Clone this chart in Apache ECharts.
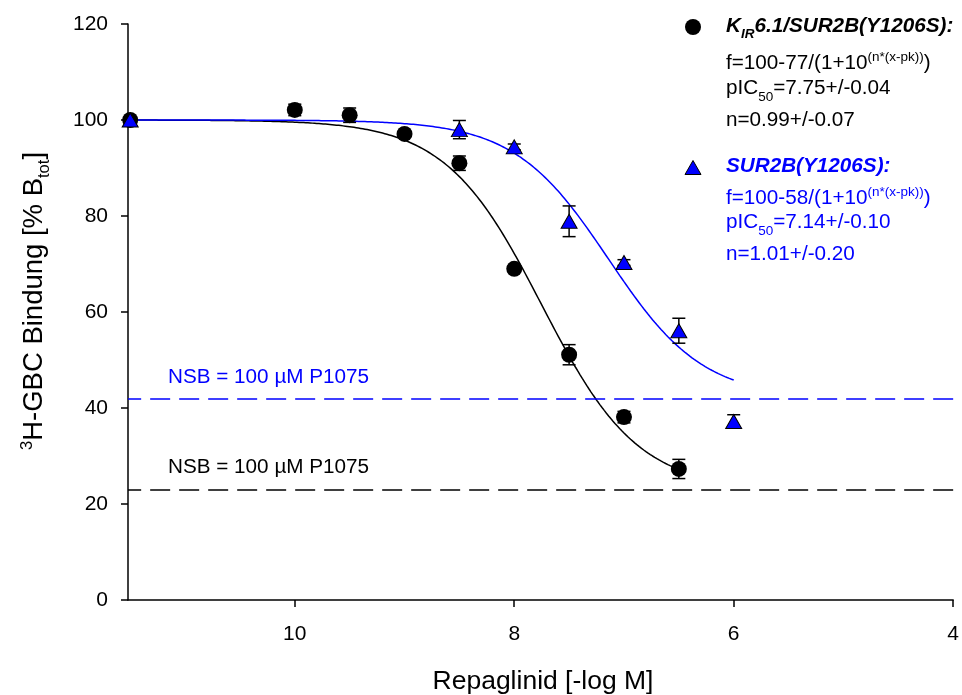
<!DOCTYPE html>
<html>
<head>
<meta charset="utf-8">
<script src="https://cdn.jsdelivr.net/npm/echarts@6/dist/echarts.min.js"></script>
<style>
  html, body { margin: 0; padding: 0; background: #fff; }
  #chart { width: 962px; height: 695px; }
</style>
</head>
<body>
<div id="chart"></div>
<script>
// Repaglinid displacement of [3H]-GBC binding, two receptor constructs

// x ticks (-log M) and y ticks (% B_tot)
const xTickValues = [4, 6, 8, 10];
const yTickValues = [0, 20, 40, 60, 80, 100, 120];

// Kir6.1/SUR2B(Y1206S): concentration (-log M), mean binding, SEM
const concKir = [11.5, 10, 9.5, 9, 8.5, 8, 7.5, 7, 6.5];
const bindKir = [100, 102.1, 101.0, 97.1, 91.0, 69.0, 51.1, 38.1, 27.3];
const semKir  = [0, 1.2, 1.5, 0.6, 1.5, 0.6, 2.1, 1.2, 2.0];

// SUR2B(Y1206S): concentration (-log M), mean binding, SEM
const concSur = [11.5, 8.5, 8, 7.5, 7, 6.5, 6];
const bindSur = [100, 98.0, 94.4, 78.9, 70.3, 56.1, 37.2];
const semSur  = [0, 1.9, 0.6, 3.2, 0.6, 2.6, 1.4];

// Hill fits, f = top - span / (1 + 10^(n*(x - pk))), over the tested range
const fitKir = { top: 100, span: 77, pk: 7.75, n: 0.99, from: 11.5, to: 6.5 };
const fitSur = { top: 100, span: 58, pk: 7.14, n: 1.01, from: 11.5, to: 6.0 };

// Non-specific binding levels (100 µM P1075)
const nsbKir = 23;
const nsbSur = 42;

const BLUE = '#0000ff';
const FONT_FAMILY = '"Liberation Sans", Arial, Helvetica, sans-serif';

function fitCurve(p) {
  const pts = [];
  for (let x = p.from; x >= p.to - 1e-9; x -= 0.02) {
    pts.push([x, p.top - p.span / (1 + Math.pow(10, p.n * (x - p.pk)))]);
  }
  return pts;
}

// text runs with super-/subscripts, laid out by measured widths
const measureCtx = document.createElement('canvas').getContext('2d');
function fontStr(size, bold, italic) {
  return (italic ? 'italic ' : '') + (bold ? 'bold ' : '') + size + 'px ' + FONT_FAMILY;
}
function textRuns(x, baseline, parts, color, opt) {
  opt = opt || {};
  const main = opt.size || 20.7;
  const small = opt.small || 13.5;
  const supShift = opt.sup != null ? opt.sup : -9;
  const subShift = opt.sub != null ? opt.sub : 6;
  let widthTotal = 0;
  const fonts = parts.map(p => {
    const size = (p.k === 'sup' || p.k === 'sub') ? small : main;
    const f = fontStr(size, opt.bold, opt.italic);
    measureCtx.font = f;
    const w = measureCtx.measureText(p.t).width;
    widthTotal += w;
    return { f, size, w };
  });
  let cx = opt.center ? x - widthTotal / 2 : x;
  return parts.map((p, i) => {
    const fs = fonts[i];
    const bl = baseline + (p.k === 'sup' ? supShift : p.k === 'sub' ? subShift : 0);
    const el = {
      type: 'text', x: cx, y: bl - 0.35 * fs.size, silent: true,
      style: {
        text: p.t, font: fs.f, fill: color,
        align: 'left', verticalAlign: 'middle',
        textAlign: 'left', textVerticalAlign: 'middle'
      }
    };
    cx += fs.w;
    return el;
  });
}

const graphics = [];

// legend block: Kir6.1/SUR2B(Y1206S)
graphics.push({ type: 'circle', shape: { cx: 693, cy: 27, r: 8 }, style: { fill: '#000' }, silent: true });
graphics.push(...textRuns(726, 34, [
  { t: 'K' }, { t: 'IR', k: 'sub' }, { t: '6.1/SUR2B(Y1206S):' }
], '#000', { bold: true, italic: true, sub: 5 }));
graphics.push(...textRuns(726, 71, [
  { t: 'f=100-77/(1+10' }, { t: '(n*(x-pk))', k: 'sup' }, { t: ')' }
], '#000'));
graphics.push(...textRuns(726, 96, [
  { t: 'pIC' }, { t: '50', k: 'sub' }, { t: '=7.75+/-0.04' }
], '#000'));
graphics.push(...textRuns(726, 128, [{ t: 'n=0.99+/-0.07' }], '#000'));

// legend block: SUR2B(Y1206S)
graphics.push({
  type: 'polygon', shape: { points: [[693, 160.5], [701, 174.5], [685, 174.5]] },
  style: { fill: BLUE, stroke: '#000', lineWidth: 1 }, silent: true
});
graphics.push(...textRuns(726, 174, [{ t: 'SUR2B(Y1206S):' }], BLUE, { bold: true, italic: true }));
graphics.push(...textRuns(726, 206, [
  { t: 'f=100-58/(1+10' }, { t: '(n*(x-pk))', k: 'sup' }, { t: ')' }
], BLUE));
graphics.push(...textRuns(726, 230, [
  { t: 'pIC' }, { t: '50', k: 'sub' }, { t: '=7.14+/-0.10' }
], BLUE));
graphics.push(...textRuns(726, 262, [{ t: 'n=1.01+/-0.20' }], BLUE));

// NSB captions above the dashed lines
graphics.push(...textRuns(168, 385, [{ t: 'NSB = 100 µM P1075' }], BLUE));
graphics.push(...textRuns(168, 475, [{ t: 'NSB = 100 µM P1075' }], '#000'));

// axis titles
graphics.push(...textRuns(543, 691, [{ t: 'Repaglinid [-log M]' }], '#000', { size: 26.5, center: true }));
const ySize = 27.5;
graphics.push({
  type: 'group', x: 34, y: 301, rotation: Math.PI / 2, silent: true,
  children: textRuns(0, 0.358 * ySize, [
    { t: '3', k: 'sup' }, { t: 'H-GBC Bindung [% B' }, { t: 'tot', k: 'sub' }, { t: ']' }
  ], '#000', { size: ySize, small: 16.5, sup: -11, sub: 6, center: true })
});

function errorBarRender(params, api) {
  const x = api.value(0), y = api.value(1), e = api.value(2);
  if (!e) return null;
  const top = api.coord([x, y + e]);
  const bot = api.coord([x, y - e]);
  const hw = 6.5;
  const st = { stroke: '#000', lineWidth: 1.5 };
  return {
    type: 'group',
    children: [
      { type: 'line', shape: { x1: top[0], y1: top[1], x2: bot[0], y2: bot[1] }, style: st },
      { type: 'line', shape: { x1: top[0] - hw, y1: top[1], x2: top[0] + hw, y2: top[1] }, style: st },
      { type: 'line', shape: { x1: bot[0] - hw, y1: bot[1], x2: bot[0] + hw, y2: bot[1] }, style: st }
    ]
  };
}

const chart = echarts.init(document.getElementById('chart'), null, { renderer: 'canvas' });
chart.setOption({
  backgroundColor: '#fff',
  animation: false,
  textStyle: { fontFamily: FONT_FAMILY },
  grid: { left: 128, right: 4.5, top: 24, bottom: 95, containLabel: false },
  xAxis: {
    type: 'value', inverse: true, min: 4, max: 11.52,
    axisLine: { show: true, onZero: false, lineStyle: { color: '#000', width: 1.5 } },
    axisTick: { show: true, length: 7, lineStyle: { color: '#000', width: 1.5 }, customValues: xTickValues },
    axisLabel: { color: '#000', fontSize: 21, margin: 24, customValues: xTickValues },
    splitLine: { show: false }
  },
  yAxis: {
    type: 'value', min: 0, max: 120, interval: 20,
    axisLine: { show: true, lineStyle: { color: '#000', width: 1.5 } },
    axisTick: { show: true, length: 7, lineStyle: { color: '#000', width: 1.5 }, customValues: yTickValues },
    axisLabel: { color: '#000', fontSize: 21, margin: 20, customValues: yTickValues },
    splitLine: { show: false }
  },
  graphic: graphics,
  series: [
    {
      name: 'fit Kir', type: 'line', data: fitCurve(fitKir), showSymbol: false, silent: true,
      lineStyle: { color: '#000', width: 1.5 }, z: 2,
      markLine: {
        silent: true, symbol: 'none', label: { show: false },
        lineStyle: { color: '#000', width: 1.5, type: [20, 9] },
        data: [{ yAxis: nsbKir }]
      }
    },
    {
      name: 'fit SUR', type: 'line', data: fitCurve(fitSur), showSymbol: false, silent: true,
      lineStyle: { color: BLUE, width: 1.5 }, z: 3,
      markLine: {
        silent: true, symbol: 'none', label: { show: false },
        lineStyle: { color: BLUE, width: 1.5, type: [20, 9] },
        data: [{ yAxis: nsbSur }]
      }
    },
    {
      name: 'err Kir', type: 'custom', renderItem: errorBarRender, silent: true, z: 4,
      data: concKir.map((c, i) => [c, bindKir[i], semKir[i]])
    },
    {
      name: 'err SUR', type: 'custom', renderItem: errorBarRender, silent: true, z: 4,
      data: concSur.map((c, i) => [c, bindSur[i], semSur[i]])
    },
    {
      name: 'Kir6.1/SUR2B(Y1206S)', type: 'scatter', symbol: 'circle', symbolSize: 16, z: 5,
      itemStyle: { color: '#000', opacity: 1 },
      data: concKir.map((c, i) => [c, bindKir[i]])
    },
    {
      name: 'SUR2B(Y1206S)', type: 'scatter', symbol: 'triangle', symbolSize: [16, 14], z: 6,
      itemStyle: { color: BLUE, borderColor: '#000', borderWidth: 1, opacity: 1 },
      data: concSur.map((c, i) => [c, bindSur[i]])
    }
  ]
});
</script>
</body>
</html>
